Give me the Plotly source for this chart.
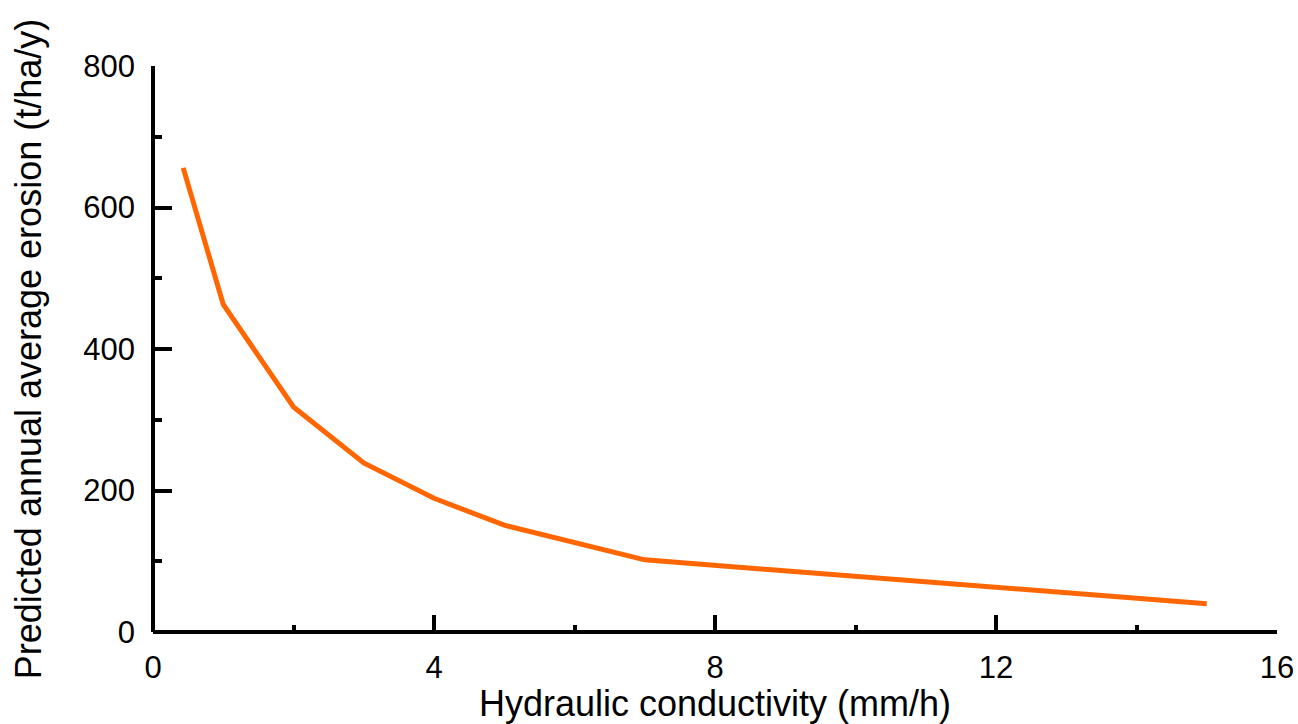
import plotly.graph_objects as go

conductivity = [0.43, 1, 2, 3, 4, 5, 7, 15]
erosion = [656, 463, 318, 239, 189, 151, 102, 40]

x_ticks = [0, 4, 8, 12, 16]
x_minor = [2, 6, 10, 14]
y_ticks = [0, 200, 400, 600, 800]
y_minor = [100, 300, 500, 700]

fig = go.Figure()
fig.add_trace(go.Scatter(x=conductivity, y=erosion, mode="lines",
                         line=dict(color="#FF6600", width=5), showlegend=False))

font_family = "Liberation Sans, Arial, sans-serif"
fig.update_layout(
    width=1298, height=724,
    margin=dict(l=153, r=21, t=66, b=92, autoexpand=False),
    paper_bgcolor="white", plot_bgcolor="white",
    font=dict(family=font_family, color="black"),
)
fig.update_xaxes(
    range=[0, 16], tickvals=x_ticks, ticktext=[str(v) for v in x_ticks],
    showgrid=False, showline=False, automargin=False,
    zeroline=True, zerolinecolor="black", zerolinewidth=4, layer="above traces",
    ticks="inside", ticklen=17, tickwidth=4, tickcolor="black",
    minor=dict(tickvals=x_minor, ticks="inside", ticklen=7, tickwidth=4, tickcolor="black"),
    tickfont=dict(size=31), ticklabelstandoff=14,
    title=dict(text="Hydraulic conductivity (mm/h)", font=dict(size=36), standoff=3),
)
fig.update_yaxes(
    range=[0, 800], tickvals=y_ticks, ticktext=[str(v) for v in y_ticks],
    showgrid=False, showline=False, automargin=False,
    zeroline=True, zerolinecolor="black", zerolinewidth=4, layer="above traces",
    ticks="inside", ticklen=19, tickwidth=4, tickcolor="black",
    minor=dict(tickvals=y_minor, ticks="inside", ticklen=9, tickwidth=4, tickcolor="black"),
    tickfont=dict(size=31), ticklabelstandoff=17,
    title=dict(text="Predicted annual average erosion (t/ha/y)", font=dict(size=36), standoff=30),
)
fig.write_html("out.html")
